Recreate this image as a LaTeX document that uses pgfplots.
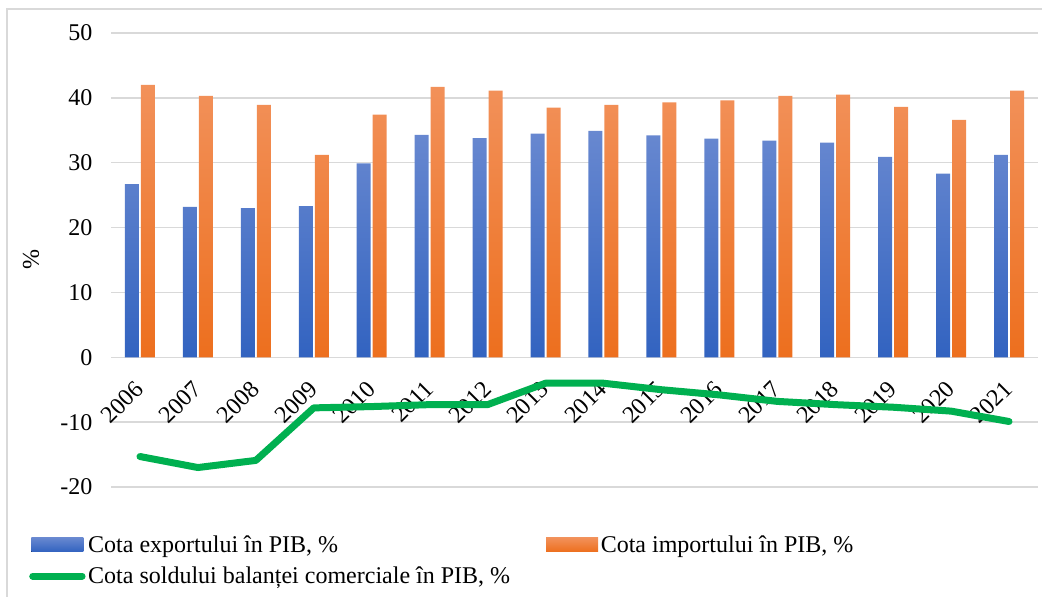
\documentclass[border=0pt]{standalone}
\usepackage{fontspec}
\setmainfont{Liberation Serif}
\usepackage{pgfplots}
\usepackage{pgfplotstable}
\pgfplotsset{compat=1.18}
\definecolor{bluetop}{RGB}{104,136,208}
\definecolor{bluebot}{RGB}{50,99,192}
\definecolor{oratop}{RGB}{242,145,90}
\definecolor{orabot}{RGB}{237,111,30}
\definecolor{grn}{RGB}{0,176,80}
\definecolor{grd}{RGB}{217,217,217}
\pgfplotstableread{
x year exp imp bal
0 2006 26.7 42.0 -15.3
1 2007 23.2 40.3 -17.0
2 2008 23.0 38.9 -15.9
3 2009 23.3 31.2 -7.8
4 2010 29.9 37.4 -7.6
5 2011 34.3 41.7 -7.3
6 2012 33.8 41.1 -7.3
7 2013 34.5 38.5 -4.0
8 2014 34.9 38.9 -4.0
9 2015 34.2 39.3 -5.0
10 2016 33.7 39.6 -5.8
11 2017 33.4 40.3 -6.8
12 2018 33.1 40.5 -7.3
13 2019 30.9 38.6 -7.7
14 2020 28.3 36.6 -8.3
15 2021 31.2 41.1 -9.9
}\data
\newcommand{\chfont}{\fontsize{18}{20}\selectfont}
\begin{document}
\begin{tikzpicture}
\path[use as bounding box] (0pt,0pt) rectangle (781.5pt,447pt);
\draw[grd, line width=1.2pt] (5.25pt,-10pt) -- (5.25pt,440.25pt) -- (800pt,440.25pt);
\node[rotate=90, font=\chfont] at (23.25pt,252pt) {\%};
\begin{axis}[
  at={(83.25pt,81.75pt)}, anchor=south west,
  scale only axis, width=695.25pt, height=340.5pt,
  xmin=-0.5, xmax=15.5, ymin=-20, ymax=50,
  ytick={-20,-10,0,10,20,30,40,50},
  xtick={0,...,15},
  xticklabels={2006,2007,2008,2009,2010,2011,2012,2013,2014,2015,2016,2017,2018,2019,2020,2021},
  axis line style={draw=none},
  tick style={draw=none},
  ymajorgrids,
  major grid style={grd, line width=1pt},
  /pgf/number format/assume math mode=true,
  yticklabel style={font=\chfont, anchor=east, xshift=-10.5pt},
  xticklabel style={font=\chfont, yshift=79pt, xshift=2pt, rotate=45, anchor=east},
  legend columns=2,
  legend style={font=\chfont, draw=none, fill=none, inner sep=0pt, anchor=north west,
    at={(-0.0885,-0.1000)}, row sep=5.5pt,
    /tikz/every even column/.append style={column sep=25pt}},
  legend cell align=left,
  clip=false,
]
\addplot[ybar, bar width=10.5pt, bar shift=-6pt, draw=none, top color=bluetop, bottom color=bluebot,
  legend image code/.code={\fill[top color=bluetop, bottom color=bluebot] (0pt,-5.25pt) rectangle (39pt,5.25pt);}]
  table[x=x, y=exp] {\data};
\addlegendentry{Cota exportului în PIB, \%}
\addplot[ybar, bar width=10.5pt, bar shift=6pt, draw=none, top color=oratop, bottom color=orabot,
  legend image code/.code={\fill[top color=oratop, bottom color=orabot] (0pt,-5.25pt) rectangle (39pt,5.25pt);}]
  table[x=x, y=imp] {\data};
\addlegendentry{Cota importului în PIB, \%}
\addplot[grn, line width=5.25pt, line join=round, line cap=round, mark=none,
  legend image code/.code={\draw[grn, line width=5.25pt, line cap=round] (1pt,0pt) -- (38pt,0pt);}]
  table[x=x, y=bal] {\data};
\addlegendentry{Cota soldului balanței comerciale în PIB, \%}
\end{axis}
\end{tikzpicture}
\end{document}
